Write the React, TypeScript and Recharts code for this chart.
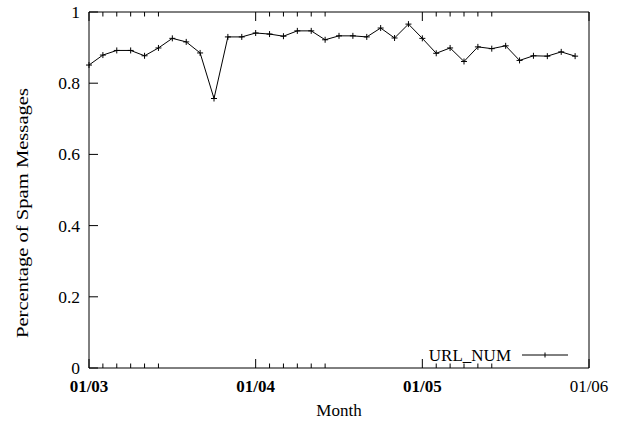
import { LineChart, Line, XAxis, YAxis } from "recharts";

// monthly samples, Jan 2003 .. Dec 2005 (index = months since 01/03)
const monthIndex = [
  0, 1, 2, 3, 4, 5, 6, 7, 8, 9, 10, 11,
  12, 13, 14, 15, 16, 17, 18, 19, 20, 21, 22, 23,
  24, 25, 26, 27, 28, 29, 30, 31, 32, 33, 34, 35,
];
const urlNum = [
  0.851, 0.879, 0.892, 0.892, 0.877, 0.899, 0.926, 0.916, 0.885, 0.757, 0.93, 0.93,
  0.941, 0.938, 0.932, 0.947, 0.947, 0.922, 0.933, 0.933, 0.93, 0.955, 0.927, 0.966,
  0.926, 0.884, 0.899, 0.861, 0.902, 0.897, 0.905, 0.864, 0.877, 0.876, 0.888, 0.876,
];
const xTicks = [0, 1, 2, 3, 4, 5, 12, 13, 14, 15, 16, 17, 24, 25, 26, 27, 28, 29, 36];
const xTickLabels: Record<number, string> = { 0: "01/03", 12: "01/04", 24: "01/05", 36: "01/06" };
const yTicks = [0, 0.2, 0.4, 0.6, 0.8, 1];

const data = monthIndex.map((m, i) => ({ month: m, value: urlNum[i] }));

const FONT = "'Liberation Serif', 'Times New Roman', serif";

function BottomTick({ x, y, payload }: any) {
  const label = xTickLabels[payload.value];
  const len = label ? 9 : 4.5;
  return (
    <g>
      <line x1={x} y1={y} x2={x} y2={y - len} stroke="#000" />
      {label && (
        <text
          x={x}
          y={y + 24}
          textAnchor="middle"
          fontFamily={FONT}
          fontSize={17}
          fontWeight={payload.value === 36 ? "normal" : "bold"}
          fill="#000"
        >
          {label}
        </text>
      )}
    </g>
  );
}

function TopTick({ x, y, payload }: any) {
  const len = xTickLabels[payload.value] ? 9 : 4.5;
  return <line x1={x} y1={y} x2={x} y2={y + len} stroke="#000" />;
}

function LeftTick({ x, y, payload }: any) {
  return (
    <g>
      <line x1={x} y1={y} x2={x + 9} y2={y} stroke="#000" />
      <text x={x - 9} y={y} dy={6} textAnchor="end" fontFamily={FONT} fontSize={17.5} fill="#000">
        {payload.value}
      </text>
    </g>
  );
}

function RightTick({ x, y }: any) {
  return <line x1={x} y1={y} x2={x - 9} y2={y} stroke="#000" />;
}

function PlusDot({ cx, cy }: any) {
  return (
    <path
      d={`M${cx - 3},${cy}H${cx + 3}M${cx},${cy - 3}V${cy + 3}`}
      stroke="#000"
      strokeWidth={1}
      fill="none"
    />
  );
}

export default function App() {
  return (
    <div style={{ position: "absolute", left: 0, top: 0, width: 619, height: 422, background: "#fff" }}>
      <LineChart width={619} height={422} data={data} margin={{ top: 0, right: 0, bottom: 0, left: 0 }}>
        <XAxis
          xAxisId="bottom"
          dataKey="month"
          type="number"
          domain={[0, 36]}
          ticks={xTicks}
          interval={0}
          height={54}
          tickSize={0}
          tickMargin={0}
          stroke="#000"
          tick={<BottomTick />}
          label={{ value: "Month", position: "insideBottom", offset: 6, fontFamily: FONT, fontSize: 17, fill: "#000" }}
        />
        <XAxis
          xAxisId="top"
          orientation="top"
          dataKey="month"
          type="number"
          domain={[0, 36]}
          ticks={xTicks}
          interval={0}
          height={12}
          tickSize={0}
          tickMargin={0}
          stroke="#000"
          tick={<TopTick />}
        />
        <YAxis
          yAxisId="left"
          domain={[0, 1]}
          ticks={yTicks}
          interval={0}
          width={89}
          tickSize={0}
          tickMargin={0}
          stroke="#000"
          tick={<LeftTick />}
        />
        <YAxis
          yAxisId="right"
          orientation="right"
          domain={[0, 1]}
          ticks={yTicks}
          interval={0}
          width={30}
          tickSize={0}
          tickMargin={0}
          stroke="#000"
          tick={<RightTick />}
        />
        <Line
          xAxisId="bottom"
          yAxisId="left"
          dataKey="value"
          name="URL_NUM"
          stroke="#000"
          strokeWidth={1}
          dot={<PlusDot />}
          activeDot={false}
          isAnimationActive={false}
        />
      </LineChart>
      <svg width={619} height={422} style={{ position: "absolute", left: 0, top: 0, pointerEvents: "none" }}>
        <text
          x={22}
          y={213}
          transform="rotate(-90, 22, 213)"
          textAnchor="middle"
          dominantBaseline="central"
          fontFamily={FONT}
          fontSize={17.7}
          textLength={250}
          lengthAdjust="spacingAndGlyphs"
          fill="#000"
        >
          Percentage of Spam Messages
        </text>
        <text x={511} y={361} textAnchor="end" fontFamily={FONT} fontSize={17} fill="#000">
          URL_NUM
        </text>
        <line x1={522} y1={355} x2={568} y2={355} stroke="#000" />
        <path d="M545,352.5V357.5" stroke="#000" />
      </svg>
    </div>
  );
}
